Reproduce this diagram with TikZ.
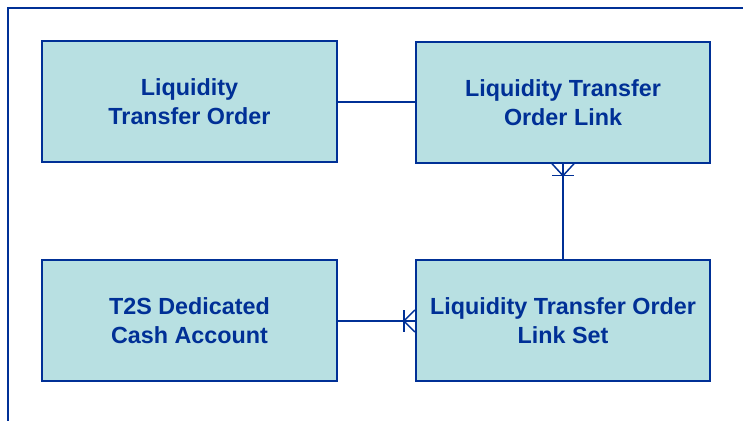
\documentclass[tikz,border=0pt]{standalone}
\usepackage{fontspec}
\setmainfont{Liberation Sans}
\usetikzlibrary{calc}

\definecolor{erblue}{RGB}{0,48,150}
\definecolor{erfill}{RGB}{184,224,226}

\begin{document}
\begin{tikzpicture}[
    x=0.75pt, y=-0.75pt,
    entity/.style={draw=erblue, line width=1.3pt, fill=erfill, minimum width=221pt, minimum height=90.5pt,
        align=center, text=erblue, font=\fontsize{17.5}{21.5}\selectfont\bfseries},
    rel/.style={draw=erblue, line width=1.1pt}
]
\useasboundingbox (0,0) rectangle (743,421);

% --- Frame ---
\draw[erblue, line width=1.4pt] (743,8) -- (8,8) -- (8,421);

% --- Entities ---
\node[entity] (lto) at (189.5,101.5) {Liquidity\\Transfer Order};
\node[entity] (ltol) at (563,102.5) {Liquidity Transfer\\Order Link};
\node[entity] (cash) at (189.5,320.5) {T2S Dedicated\\Cash Account};
\node[entity] (ltols) at (563,320.5) {Liquidity Transfer Order\\Link Set};

% --- Relations ---
\draw[rel] (lto.east |- 0,102) -- (ltol.west |- 0,102);
\draw[rel] (ltols.north) -- (ltol.south);
\draw[rel] (cash.east |- 0,321) -- (ltols.west |- 0,321);

% Crow's feet
\coordinate (cf1) at ($(ltol.south)+(0,12)$);
\draw[rel] ($(ltol.south)+(-11,0)$) -- (cf1) -- ($(ltol.south)+(11,0)$);
\draw[rel] ($(cf1)+(-11,0)$) -- ($(cf1)+(11,0)$);

\coordinate (cf2) at ($(ltols.west |- 0,321)+(-11,0)$);
\draw[rel] ($(ltols.west |- 0,321)+(0,-11)$) -- (cf2) -- ($(ltols.west |- 0,321)+(0,11)$);
\draw[rel] ($(cf2)+(0,-11)$) -- ($(cf2)+(0,11)$);

\end{tikzpicture}
\end{document}
